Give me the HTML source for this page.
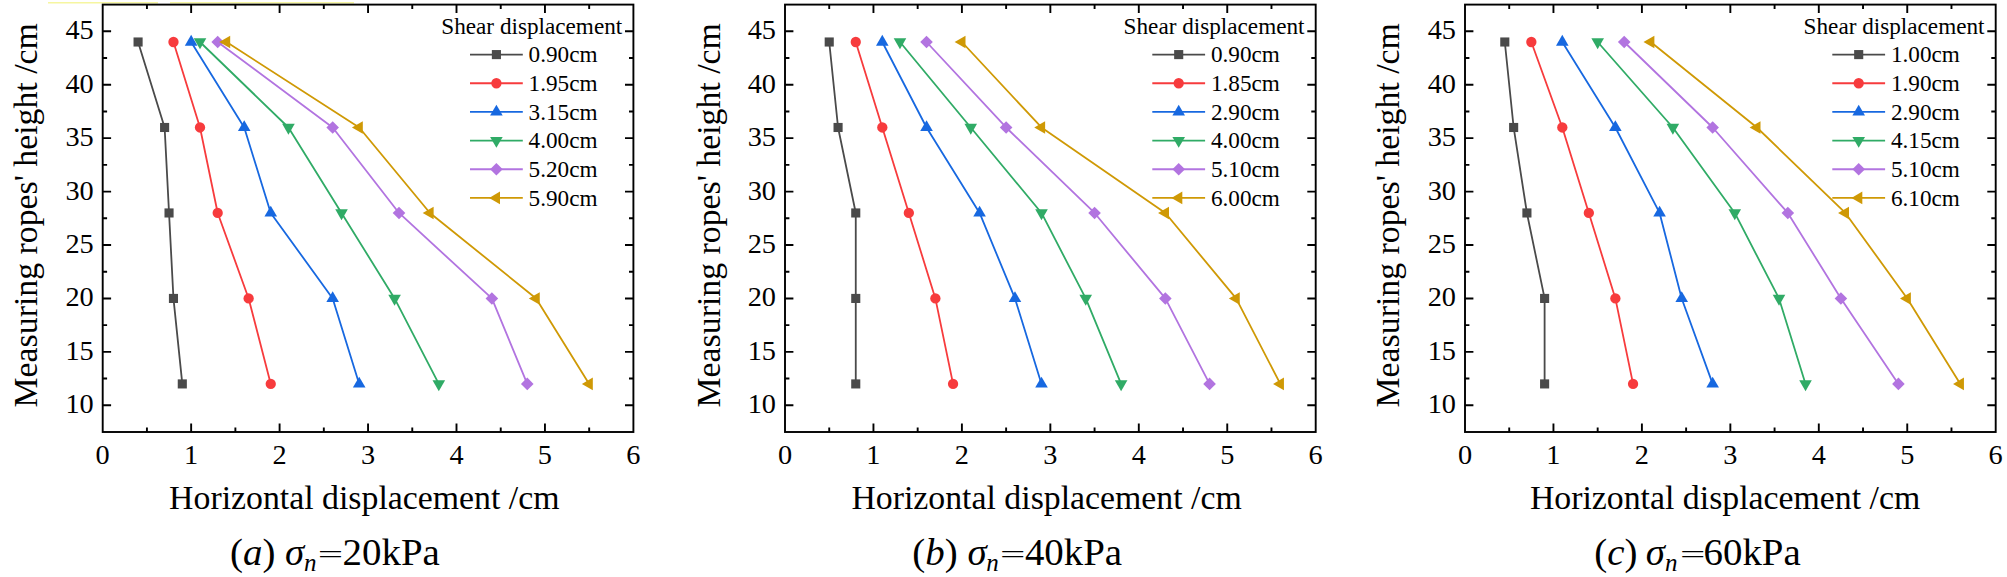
<!DOCTYPE html>
<html><head><meta charset="utf-8"><title>Horizontal displacement vs measuring ropes' height</title>
<style>
html,body{margin:0;padding:0;background:#fff;}
body{width:2007px;height:577px;overflow:hidden;}
svg{display:block;font-family:"Liberation Serif",serif;fill:#000;}
.tk{font-size:28.3px;}
.ti{font-size:33.8px;}
.lg{font-size:23.2px;}
.cp{font-size:38.9px;}
</style></head><body>
<svg width="2007" height="577" viewBox="0 0 2007 577">
<rect width="2007" height="577" fill="#fff"/>
<path d="M48 2.8H158M170 2.8H354" stroke="#f6f6a0" stroke-width="1.6" fill="none"/>

<g>
<path d="M146.93 432v-4.4M146.93 4.6v4.4M191.15 432v-8.4M191.15 4.6v8.4M235.38 432v-4.4M235.38 4.6v4.4M279.6 432v-8.4M279.6 4.6v8.4M323.82 432v-4.4M323.82 4.6v4.4M368.05 432v-8.4M368.05 4.6v8.4M412.27 432v-4.4M412.27 4.6v4.4M456.5 432v-8.4M456.5 4.6v8.4M500.73 432v-4.4M500.73 4.6v4.4M544.95 432v-8.4M544.95 4.6v8.4M589.18 432v-4.4M589.18 4.6v4.4M102.7 405.29h8.4M633.4 405.29h-8.4M102.7 378.57h4.4M633.4 378.57h-4.4M102.7 351.86h8.4M633.4 351.86h-8.4M102.7 325.15h4.4M633.4 325.15h-4.4M102.7 298.44h8.4M633.4 298.44h-8.4M102.7 271.73h4.4M633.4 271.73h-4.4M102.7 245.01h8.4M633.4 245.01h-8.4M102.7 218.3h4.4M633.4 218.3h-4.4M102.7 191.59h8.4M633.4 191.59h-8.4M102.7 164.88h4.4M633.4 164.88h-4.4M102.7 138.16h8.4M633.4 138.16h-8.4M102.7 111.45h4.4M633.4 111.45h-4.4M102.7 84.74h8.4M633.4 84.74h-8.4M102.7 58.02h4.4M633.4 58.02h-4.4M102.7 31.31h8.4M633.4 31.31h-8.4" stroke="#000" stroke-width="1.9" fill="none"/>
<rect x="102.7" y="4.6" width="530.7" height="427.4" fill="none" stroke="#000" stroke-width="1.9"/>
<text class="tk" x="102.7" y="463.5" text-anchor="middle">0</text>
<text class="tk" x="191.15" y="463.5" text-anchor="middle">1</text>
<text class="tk" x="279.6" y="463.5" text-anchor="middle">2</text>
<text class="tk" x="368.05" y="463.5" text-anchor="middle">3</text>
<text class="tk" x="456.5" y="463.5" text-anchor="middle">4</text>
<text class="tk" x="544.95" y="463.5" text-anchor="middle">5</text>
<text class="tk" x="633.4" y="463.5" text-anchor="middle">6</text>
<text class="tk" x="93.7" y="413.29" text-anchor="end">10</text>
<text class="tk" x="93.7" y="359.86" text-anchor="end">15</text>
<text class="tk" x="93.7" y="306.44" text-anchor="end">20</text>
<text class="tk" x="93.7" y="253.01" text-anchor="end">25</text>
<text class="tk" x="93.7" y="199.59" text-anchor="end">30</text>
<text class="tk" x="93.7" y="146.16" text-anchor="end">35</text>
<text class="tk" x="93.7" y="92.74" text-anchor="end">40</text>
<text class="tk" x="93.7" y="39.31" text-anchor="end">45</text>
<text class="ti" x="364.3" y="508.6" text-anchor="middle">Horizontal displacement /cm</text>
<text class="ti" transform="translate(36.5,215.3) rotate(-90)" text-anchor="middle">Measuring ropes' height /cm</text>
<polyline points="138.08,42 164.62,127.48 169.04,212.96 173.46,298.44 182.31,383.92" fill="none" stroke="#4a4a4a" stroke-width="1.8" stroke-linejoin="round"/>
<rect x="133.53" y="37.45" width="9.1" height="9.1" fill="#4a4a4a"/>
<rect x="160.06" y="122.93" width="9.1" height="9.1" fill="#4a4a4a"/>
<rect x="164.49" y="208.41" width="9.1" height="9.1" fill="#4a4a4a"/>
<rect x="168.91" y="293.89" width="9.1" height="9.1" fill="#4a4a4a"/>
<rect x="177.75" y="379.37" width="9.1" height="9.1" fill="#4a4a4a"/>
<polyline points="173.46,42 200,127.48 217.69,212.96 248.64,298.44 270.75,383.92" fill="none" stroke="#f73b3d" stroke-width="1.8" stroke-linejoin="round"/>
<circle cx="173.46" cy="42" r="5.15" fill="#f73b3d"/>
<circle cx="200" cy="127.48" r="5.15" fill="#f73b3d"/>
<circle cx="217.69" cy="212.96" r="5.15" fill="#f73b3d"/>
<circle cx="248.64" cy="298.44" r="5.15" fill="#f73b3d"/>
<circle cx="270.75" cy="383.92" r="5.15" fill="#f73b3d"/>
<polyline points="191.15,42 244.22,127.48 270.75,212.96 332.67,298.44 359.2,383.92" fill="none" stroke="#1768e0" stroke-width="1.8" stroke-linejoin="round"/>
<polygon points="191.15,34.73 184.85,45.63 197.45,45.63" fill="#1768e0"/>
<polygon points="244.22,120.21 237.92,131.11 250.52,131.11" fill="#1768e0"/>
<polygon points="270.75,205.69 264.45,216.59 277.06,216.59" fill="#1768e0"/>
<polygon points="332.67,291.17 326.37,302.07 338.97,302.07" fill="#1768e0"/>
<polygon points="359.2,376.65 352.9,387.55 365.5,387.55" fill="#1768e0"/>
<polyline points="200,42 288.44,127.48 341.52,212.96 394.58,298.44 438.81,383.92" fill="none" stroke="#30ab66" stroke-width="1.8" stroke-linejoin="round"/>
<polygon points="200,49.26 193.69,38.36 206.3,38.36" fill="#30ab66"/>
<polygon points="288.44,134.74 282.14,123.84 294.75,123.84" fill="#30ab66"/>
<polygon points="341.52,220.22 335.22,209.32 347.82,209.32" fill="#30ab66"/>
<polygon points="394.58,305.7 388.28,294.8 400.88,294.8" fill="#30ab66"/>
<polygon points="438.81,391.18 432.51,380.28 445.11,380.28" fill="#30ab66"/>
<polyline points="217.69,42 332.67,127.48 399.01,212.96 491.88,298.44 527.26,383.92" fill="none" stroke="#b274e0" stroke-width="1.8" stroke-linejoin="round"/>
<polygon points="217.69,35.7 223.99,42 217.69,48.3 211.38,42" fill="#b274e0"/>
<polygon points="332.67,121.18 338.97,127.48 332.67,133.78 326.37,127.48" fill="#b274e0"/>
<polygon points="399.01,206.66 405.31,212.96 399.01,219.26 392.71,212.96" fill="#b274e0"/>
<polygon points="491.88,292.14 498.18,298.44 491.88,304.74 485.58,298.44" fill="#b274e0"/>
<polygon points="527.26,377.62 533.56,383.92 527.26,390.22 520.96,383.92" fill="#b274e0"/>
<polyline points="226.53,42 359.2,127.48 429.97,212.96 536.11,298.44 589.18,383.92" fill="none" stroke="#cf9905" stroke-width="1.8" stroke-linejoin="round"/>
<polygon points="219.26,42 230.16,35.7 230.16,48.3" fill="#cf9905"/>
<polygon points="351.94,127.48 362.84,121.18 362.84,133.78" fill="#cf9905"/>
<polygon points="422.7,212.96 433.6,206.66 433.6,219.26" fill="#cf9905"/>
<polygon points="528.84,298.44 539.74,292.14 539.74,304.74" fill="#cf9905"/>
<polygon points="581.91,383.92 592.81,377.62 592.81,390.22" fill="#cf9905"/>
<text class="lg" x="441.3" y="33.5">Shear displacement</text>
<path d="M470 54.6H522.8" stroke="#4a4a4a" stroke-width="1.8"/>
<rect x="491.85" y="50.05" width="9.1" height="9.1" fill="#4a4a4a"/>
<text class="lg" x="528.6" y="62.4">0.90cm</text>
<path d="M470 83.26H522.8" stroke="#f73b3d" stroke-width="1.8"/>
<circle cx="496.4" cy="83.26" r="5.15" fill="#f73b3d"/>
<text class="lg" x="528.6" y="91.06">1.95cm</text>
<path d="M470 111.92H522.8" stroke="#1768e0" stroke-width="1.8"/>
<polygon points="496.4,104.65 490.1,115.55 502.7,115.55" fill="#1768e0"/>
<text class="lg" x="528.6" y="119.72">3.15cm</text>
<path d="M470 140.58H522.8" stroke="#30ab66" stroke-width="1.8"/>
<polygon points="496.4,147.85 490.1,136.95 502.7,136.95" fill="#30ab66"/>
<text class="lg" x="528.6" y="148.38">4.00cm</text>
<path d="M470 169.24H522.8" stroke="#b274e0" stroke-width="1.8"/>
<polygon points="496.4,162.94 502.7,169.24 496.4,175.54 490.1,169.24" fill="#b274e0"/>
<text class="lg" x="528.6" y="177.04">5.20cm</text>
<path d="M470 197.9H522.8" stroke="#cf9905" stroke-width="1.8"/>
<polygon points="489.13,197.9 500.03,191.6 500.03,204.2" fill="#cf9905"/>
<text class="lg" x="528.6" y="205.7">5.90cm</text>
<text class="cp" x="230" y="565.2">(<tspan font-style="italic">a</tspan>) </text>
<text class="cp" x="285.1" y="565.2" font-style="italic">σ</text>
<text class="cp" x="304" y="570.7" font-style="italic" style="font-size:25px">n</text>
<text class="cp" transform="translate(317.7,563.1) scale(1.8,1)" style="font-size:25px">=</text>
<text class="cp" x="342.6" y="565.2">20kPa</text>
</g>
<g>
<path d="M829.23 432v-4.4M829.23 4.6v4.4M873.45 432v-8.4M873.45 4.6v8.4M917.67 432v-4.4M917.67 4.6v4.4M961.9 432v-8.4M961.9 4.6v8.4M1006.12 432v-4.4M1006.12 4.6v4.4M1050.35 432v-8.4M1050.35 4.6v8.4M1094.58 432v-4.4M1094.58 4.6v4.4M1138.8 432v-8.4M1138.8 4.6v8.4M1183.03 432v-4.4M1183.03 4.6v4.4M1227.25 432v-8.4M1227.25 4.6v8.4M1271.47 432v-4.4M1271.47 4.6v4.4M785 405.29h8.4M1315.7 405.29h-8.4M785 378.57h4.4M1315.7 378.57h-4.4M785 351.86h8.4M1315.7 351.86h-8.4M785 325.15h4.4M1315.7 325.15h-4.4M785 298.44h8.4M1315.7 298.44h-8.4M785 271.73h4.4M1315.7 271.73h-4.4M785 245.01h8.4M1315.7 245.01h-8.4M785 218.3h4.4M1315.7 218.3h-4.4M785 191.59h8.4M1315.7 191.59h-8.4M785 164.88h4.4M1315.7 164.88h-4.4M785 138.16h8.4M1315.7 138.16h-8.4M785 111.45h4.4M1315.7 111.45h-4.4M785 84.74h8.4M1315.7 84.74h-8.4M785 58.02h4.4M1315.7 58.02h-4.4M785 31.31h8.4M1315.7 31.31h-8.4" stroke="#000" stroke-width="1.9" fill="none"/>
<rect x="785" y="4.6" width="530.7" height="427.4" fill="none" stroke="#000" stroke-width="1.9"/>
<text class="tk" x="785" y="463.5" text-anchor="middle">0</text>
<text class="tk" x="873.45" y="463.5" text-anchor="middle">1</text>
<text class="tk" x="961.9" y="463.5" text-anchor="middle">2</text>
<text class="tk" x="1050.35" y="463.5" text-anchor="middle">3</text>
<text class="tk" x="1138.8" y="463.5" text-anchor="middle">4</text>
<text class="tk" x="1227.25" y="463.5" text-anchor="middle">5</text>
<text class="tk" x="1315.7" y="463.5" text-anchor="middle">6</text>
<text class="tk" x="776" y="413.29" text-anchor="end">10</text>
<text class="tk" x="776" y="359.86" text-anchor="end">15</text>
<text class="tk" x="776" y="306.44" text-anchor="end">20</text>
<text class="tk" x="776" y="253.01" text-anchor="end">25</text>
<text class="tk" x="776" y="199.59" text-anchor="end">30</text>
<text class="tk" x="776" y="146.16" text-anchor="end">35</text>
<text class="tk" x="776" y="92.74" text-anchor="end">40</text>
<text class="tk" x="776" y="39.31" text-anchor="end">45</text>
<text class="ti" x="1046.6" y="508.6" text-anchor="middle">Horizontal displacement /cm</text>
<text class="ti" transform="translate(719.7,215.3) rotate(-90)" text-anchor="middle">Measuring ropes' height /cm</text>
<polyline points="829.23,42 838.07,127.48 855.76,212.96 855.76,298.44 855.76,383.92" fill="none" stroke="#4a4a4a" stroke-width="1.8" stroke-linejoin="round"/>
<rect x="824.68" y="37.45" width="9.1" height="9.1" fill="#4a4a4a"/>
<rect x="833.52" y="122.93" width="9.1" height="9.1" fill="#4a4a4a"/>
<rect x="851.21" y="208.41" width="9.1" height="9.1" fill="#4a4a4a"/>
<rect x="851.21" y="293.89" width="9.1" height="9.1" fill="#4a4a4a"/>
<rect x="851.21" y="379.37" width="9.1" height="9.1" fill="#4a4a4a"/>
<polyline points="855.76,42 882.3,127.48 908.83,212.96 935.37,298.44 953.06,383.92" fill="none" stroke="#f73b3d" stroke-width="1.8" stroke-linejoin="round"/>
<circle cx="855.76" cy="42" r="5.15" fill="#f73b3d"/>
<circle cx="882.3" cy="127.48" r="5.15" fill="#f73b3d"/>
<circle cx="908.83" cy="212.96" r="5.15" fill="#f73b3d"/>
<circle cx="935.37" cy="298.44" r="5.15" fill="#f73b3d"/>
<circle cx="953.06" cy="383.92" r="5.15" fill="#f73b3d"/>
<polyline points="882.3,42 926.52,127.48 979.59,212.96 1014.97,298.44 1041.51,383.92" fill="none" stroke="#1768e0" stroke-width="1.8" stroke-linejoin="round"/>
<polygon points="882.3,34.73 876,45.63 888.6,45.63" fill="#1768e0"/>
<polygon points="926.52,120.21 920.22,131.11 932.82,131.11" fill="#1768e0"/>
<polygon points="979.59,205.69 973.29,216.59 985.89,216.59" fill="#1768e0"/>
<polygon points="1014.97,291.17 1008.67,302.07 1021.27,302.07" fill="#1768e0"/>
<polygon points="1041.51,376.65 1035.21,387.55 1047.81,387.55" fill="#1768e0"/>
<polyline points="899.99,42 970.75,127.48 1041.51,212.96 1085.73,298.44 1121.11,383.92" fill="none" stroke="#30ab66" stroke-width="1.8" stroke-linejoin="round"/>
<polygon points="899.99,49.26 893.69,38.36 906.28,38.36" fill="#30ab66"/>
<polygon points="970.75,134.74 964.45,123.84 977.04,123.84" fill="#30ab66"/>
<polygon points="1041.51,220.22 1035.21,209.32 1047.81,209.32" fill="#30ab66"/>
<polygon points="1085.73,305.7 1079.43,294.8 1092.03,294.8" fill="#30ab66"/>
<polygon points="1121.11,391.18 1114.81,380.28 1127.41,380.28" fill="#30ab66"/>
<polyline points="926.52,42 1006.12,127.48 1094.58,212.96 1165.34,298.44 1209.56,383.92" fill="none" stroke="#b274e0" stroke-width="1.8" stroke-linejoin="round"/>
<polygon points="926.52,35.7 932.82,42 926.52,48.3 920.22,42" fill="#b274e0"/>
<polygon points="1006.12,121.18 1012.42,127.48 1006.12,133.78 999.83,127.48" fill="#b274e0"/>
<polygon points="1094.58,206.66 1100.88,212.96 1094.58,219.26 1088.28,212.96" fill="#b274e0"/>
<polygon points="1165.34,292.14 1171.63,298.44 1165.34,304.74 1159.04,298.44" fill="#b274e0"/>
<polygon points="1209.56,377.62 1215.86,383.92 1209.56,390.22 1203.26,383.92" fill="#b274e0"/>
<polyline points="961.9,42 1041.51,127.48 1165.34,212.96 1236.1,298.44 1280.32,383.92" fill="none" stroke="#cf9905" stroke-width="1.8" stroke-linejoin="round"/>
<polygon points="954.63,42 965.53,35.7 965.53,48.3" fill="#cf9905"/>
<polygon points="1034.24,127.48 1045.14,121.18 1045.14,133.78" fill="#cf9905"/>
<polygon points="1158.07,212.96 1168.97,206.66 1168.97,219.26" fill="#cf9905"/>
<polygon points="1228.83,298.44 1239.73,292.14 1239.73,304.74" fill="#cf9905"/>
<polygon points="1273.05,383.92 1283.95,377.62 1283.95,390.22" fill="#cf9905"/>
<text class="lg" x="1123.6" y="33.5">Shear displacement</text>
<path d="M1152.3 54.6H1205.1" stroke="#4a4a4a" stroke-width="1.8"/>
<rect x="1174.15" y="50.05" width="9.1" height="9.1" fill="#4a4a4a"/>
<text class="lg" x="1210.9" y="62.4">0.90cm</text>
<path d="M1152.3 83.26H1205.1" stroke="#f73b3d" stroke-width="1.8"/>
<circle cx="1178.7" cy="83.26" r="5.15" fill="#f73b3d"/>
<text class="lg" x="1210.9" y="91.06">1.85cm</text>
<path d="M1152.3 111.92H1205.1" stroke="#1768e0" stroke-width="1.8"/>
<polygon points="1178.7,104.65 1172.4,115.55 1185,115.55" fill="#1768e0"/>
<text class="lg" x="1210.9" y="119.72">2.90cm</text>
<path d="M1152.3 140.58H1205.1" stroke="#30ab66" stroke-width="1.8"/>
<polygon points="1178.7,147.85 1172.4,136.95 1185,136.95" fill="#30ab66"/>
<text class="lg" x="1210.9" y="148.38">4.00cm</text>
<path d="M1152.3 169.24H1205.1" stroke="#b274e0" stroke-width="1.8"/>
<polygon points="1178.7,162.94 1185,169.24 1178.7,175.54 1172.4,169.24" fill="#b274e0"/>
<text class="lg" x="1210.9" y="177.04">5.10cm</text>
<path d="M1152.3 197.9H1205.1" stroke="#cf9905" stroke-width="1.8"/>
<polygon points="1171.43,197.9 1182.33,191.6 1182.33,204.2" fill="#cf9905"/>
<text class="lg" x="1210.9" y="205.7">6.00cm</text>
<text class="cp" x="912.3" y="565.2">(<tspan font-style="italic">b</tspan>) </text>
<text class="cp" x="967.4" y="565.2" font-style="italic">σ</text>
<text class="cp" x="986.3" y="570.7" font-style="italic" style="font-size:25px">n</text>
<text class="cp" transform="translate(1000,563.1) scale(1.8,1)" style="font-size:25px">=</text>
<text class="cp" x="1024.9" y="565.2">40kPa</text>
</g>
<g>
<path d="M1509.22 432v-4.4M1509.22 4.6v4.4M1553.45 432v-8.4M1553.45 4.6v8.4M1597.67 432v-4.4M1597.67 4.6v4.4M1641.9 432v-8.4M1641.9 4.6v8.4M1686.12 432v-4.4M1686.12 4.6v4.4M1730.35 432v-8.4M1730.35 4.6v8.4M1774.58 432v-4.4M1774.58 4.6v4.4M1818.8 432v-8.4M1818.8 4.6v8.4M1863.03 432v-4.4M1863.03 4.6v4.4M1907.25 432v-8.4M1907.25 4.6v8.4M1951.47 432v-4.4M1951.47 4.6v4.4M1465 405.29h8.4M1995.7 405.29h-8.4M1465 378.57h4.4M1995.7 378.57h-4.4M1465 351.86h8.4M1995.7 351.86h-8.4M1465 325.15h4.4M1995.7 325.15h-4.4M1465 298.44h8.4M1995.7 298.44h-8.4M1465 271.73h4.4M1995.7 271.73h-4.4M1465 245.01h8.4M1995.7 245.01h-8.4M1465 218.3h4.4M1995.7 218.3h-4.4M1465 191.59h8.4M1995.7 191.59h-8.4M1465 164.88h4.4M1995.7 164.88h-4.4M1465 138.16h8.4M1995.7 138.16h-8.4M1465 111.45h4.4M1995.7 111.45h-4.4M1465 84.74h8.4M1995.7 84.74h-8.4M1465 58.02h4.4M1995.7 58.02h-4.4M1465 31.31h8.4M1995.7 31.31h-8.4" stroke="#000" stroke-width="1.9" fill="none"/>
<rect x="1465" y="4.6" width="530.7" height="427.4" fill="none" stroke="#000" stroke-width="1.9"/>
<text class="tk" x="1465" y="463.5" text-anchor="middle">0</text>
<text class="tk" x="1553.45" y="463.5" text-anchor="middle">1</text>
<text class="tk" x="1641.9" y="463.5" text-anchor="middle">2</text>
<text class="tk" x="1730.35" y="463.5" text-anchor="middle">3</text>
<text class="tk" x="1818.8" y="463.5" text-anchor="middle">4</text>
<text class="tk" x="1907.25" y="463.5" text-anchor="middle">5</text>
<text class="tk" x="1995.7" y="463.5" text-anchor="middle">6</text>
<text class="tk" x="1456" y="413.29" text-anchor="end">10</text>
<text class="tk" x="1456" y="359.86" text-anchor="end">15</text>
<text class="tk" x="1456" y="306.44" text-anchor="end">20</text>
<text class="tk" x="1456" y="253.01" text-anchor="end">25</text>
<text class="tk" x="1456" y="199.59" text-anchor="end">30</text>
<text class="tk" x="1456" y="146.16" text-anchor="end">35</text>
<text class="tk" x="1456" y="92.74" text-anchor="end">40</text>
<text class="tk" x="1456" y="39.31" text-anchor="end">45</text>
<text class="ti" x="1725.1" y="508.6" text-anchor="middle">Horizontal displacement /cm</text>
<text class="ti" transform="translate(1398.5,215.3) rotate(-90)" text-anchor="middle">Measuring ropes' height /cm</text>
<polyline points="1504.8,42 1513.65,127.48 1526.91,212.96 1544.61,298.44 1544.61,383.92" fill="none" stroke="#4a4a4a" stroke-width="1.8" stroke-linejoin="round"/>
<rect x="1500.25" y="37.45" width="9.1" height="9.1" fill="#4a4a4a"/>
<rect x="1509.1" y="122.93" width="9.1" height="9.1" fill="#4a4a4a"/>
<rect x="1522.37" y="208.41" width="9.1" height="9.1" fill="#4a4a4a"/>
<rect x="1540.06" y="293.89" width="9.1" height="9.1" fill="#4a4a4a"/>
<rect x="1540.06" y="379.37" width="9.1" height="9.1" fill="#4a4a4a"/>
<polyline points="1531.34,42 1562.3,127.48 1588.83,212.96 1615.37,298.44 1633.06,383.92" fill="none" stroke="#f73b3d" stroke-width="1.8" stroke-linejoin="round"/>
<circle cx="1531.34" cy="42" r="5.15" fill="#f73b3d"/>
<circle cx="1562.3" cy="127.48" r="5.15" fill="#f73b3d"/>
<circle cx="1588.83" cy="212.96" r="5.15" fill="#f73b3d"/>
<circle cx="1615.37" cy="298.44" r="5.15" fill="#f73b3d"/>
<circle cx="1633.06" cy="383.92" r="5.15" fill="#f73b3d"/>
<polyline points="1562.3,42 1615.37,127.48 1659.59,212.96 1681.7,298.44 1712.66,383.92" fill="none" stroke="#1768e0" stroke-width="1.8" stroke-linejoin="round"/>
<polygon points="1562.3,34.73 1556,45.63 1568.6,45.63" fill="#1768e0"/>
<polygon points="1615.37,120.21 1609.07,131.11 1621.66,131.11" fill="#1768e0"/>
<polygon points="1659.59,205.69 1653.29,216.59 1665.89,216.59" fill="#1768e0"/>
<polygon points="1681.7,291.17 1675.4,302.07 1688,302.07" fill="#1768e0"/>
<polygon points="1712.66,376.65 1706.36,387.55 1718.96,387.55" fill="#1768e0"/>
<polyline points="1597.67,42 1672.86,127.48 1734.77,212.96 1779,298.44 1805.53,383.92" fill="none" stroke="#30ab66" stroke-width="1.8" stroke-linejoin="round"/>
<polygon points="1597.67,49.26 1591.38,38.36 1603.97,38.36" fill="#30ab66"/>
<polygon points="1672.86,134.74 1666.56,123.84 1679.16,123.84" fill="#30ab66"/>
<polygon points="1734.77,220.22 1728.47,209.32 1741.07,209.32" fill="#30ab66"/>
<polygon points="1779,305.7 1772.7,294.8 1785.3,294.8" fill="#30ab66"/>
<polygon points="1805.53,391.18 1799.23,380.28 1811.83,380.28" fill="#30ab66"/>
<polyline points="1624.21,42 1712.66,127.48 1787.84,212.96 1840.91,298.44 1898.4,383.92" fill="none" stroke="#b274e0" stroke-width="1.8" stroke-linejoin="round"/>
<polygon points="1624.21,35.7 1630.51,42 1624.21,48.3 1617.91,42" fill="#b274e0"/>
<polygon points="1712.66,121.18 1718.96,127.48 1712.66,133.78 1706.36,127.48" fill="#b274e0"/>
<polygon points="1787.84,206.66 1794.14,212.96 1787.84,219.26 1781.54,212.96" fill="#b274e0"/>
<polygon points="1840.91,292.14 1847.21,298.44 1840.91,304.74 1834.61,298.44" fill="#b274e0"/>
<polygon points="1898.4,377.62 1904.7,383.92 1898.4,390.22 1892.11,383.92" fill="#b274e0"/>
<polyline points="1650.74,42 1756.88,127.48 1845.34,212.96 1907.25,298.44 1960.32,383.92" fill="none" stroke="#cf9905" stroke-width="1.8" stroke-linejoin="round"/>
<polygon points="1643.48,42 1654.38,35.7 1654.38,48.3" fill="#cf9905"/>
<polygon points="1749.62,127.48 1760.52,121.18 1760.52,133.78" fill="#cf9905"/>
<polygon points="1838.07,212.96 1848.97,206.66 1848.97,219.26" fill="#cf9905"/>
<polygon points="1899.98,298.44 1910.88,292.14 1910.88,304.74" fill="#cf9905"/>
<polygon points="1953.05,383.92 1963.95,377.62 1963.95,390.22" fill="#cf9905"/>
<text class="lg" x="1803.6" y="33.5">Shear displacement</text>
<path d="M1832.3 54.6H1885.1" stroke="#4a4a4a" stroke-width="1.8"/>
<rect x="1854.15" y="50.05" width="9.1" height="9.1" fill="#4a4a4a"/>
<text class="lg" x="1890.9" y="62.4">1.00cm</text>
<path d="M1832.3 83.26H1885.1" stroke="#f73b3d" stroke-width="1.8"/>
<circle cx="1858.7" cy="83.26" r="5.15" fill="#f73b3d"/>
<text class="lg" x="1890.9" y="91.06">1.90cm</text>
<path d="M1832.3 111.92H1885.1" stroke="#1768e0" stroke-width="1.8"/>
<polygon points="1858.7,104.65 1852.4,115.55 1865,115.55" fill="#1768e0"/>
<text class="lg" x="1890.9" y="119.72">2.90cm</text>
<path d="M1832.3 140.58H1885.1" stroke="#30ab66" stroke-width="1.8"/>
<polygon points="1858.7,147.85 1852.4,136.95 1865,136.95" fill="#30ab66"/>
<text class="lg" x="1890.9" y="148.38">4.15cm</text>
<path d="M1832.3 169.24H1885.1" stroke="#b274e0" stroke-width="1.8"/>
<polygon points="1858.7,162.94 1865,169.24 1858.7,175.54 1852.4,169.24" fill="#b274e0"/>
<text class="lg" x="1890.9" y="177.04">5.10cm</text>
<path d="M1832.3 197.9H1885.1" stroke="#cf9905" stroke-width="1.8"/>
<polygon points="1851.43,197.9 1862.33,191.6 1862.33,204.2" fill="#cf9905"/>
<text class="lg" x="1890.9" y="205.7">6.10cm</text>
<text class="cp" x="1594.3" y="565.2">(<tspan font-style="italic">c</tspan>) </text>
<text class="cp" x="1645.7" y="565.2" font-style="italic">σ</text>
<text class="cp" x="1665.1" y="570.7" font-style="italic" style="font-size:25px">n</text>
<text class="cp" transform="translate(1680,563.1) scale(1.8,1)" style="font-size:25px">=</text>
<text class="cp" x="1703.5" y="565.2">60kPa</text>
</g>
</svg></body></html>
